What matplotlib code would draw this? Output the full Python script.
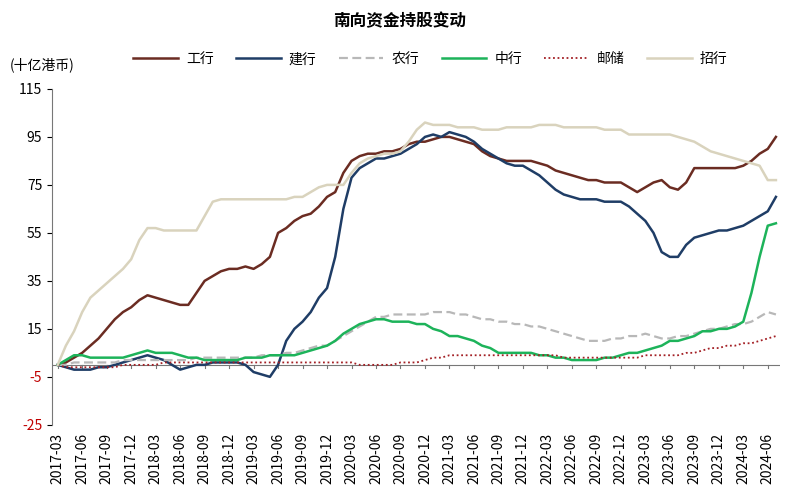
import matplotlib
matplotlib.use("Agg")
import matplotlib.pyplot as plt
import pandas as pd

plt.rcParams["font.family"] = ["Noto Sans CJK SC", "DejaVu Sans"]

months = pd.period_range("2017-03", "2024-07", freq="M")
gh = [0,1,3,5,8,11,15,19,22,24,
      27,29,28,27,26,25,25,30,35,37,39,40,
      40,41,40,42,45,55,57,60,62,63,66,70,
      72,80,85,87,88,88,89,89,90,92,93,93,
      94,95,95,94,93,92,89,87,86,85,85,85,
      85,84,83,81,80,79,78,77,77,76,76,76,
      74,72,74,76,77,74,73,76,82,82,82,82,
      82,82,83,85,88,90,95]
jh = [0,-1,-2,-2,-2,-1,-1,0,1,2,
      3,4,3,2,0,-2,-1,0,0,1,1,1,
      1,0,-3,-4,-5,0,10,15,18,22,28,32,
      45,65,78,82,84,86,86,87,88,90,92,95,
      96,95,97,96,95,93,90,88,86,84,83,83,
      81,79,76,73,71,70,69,69,69,68,68,68,
      66,63,60,55,47,45,45,50,53,54,55,56,
      56,57,58,60,62,64,70]
nh = [0,0,1,1,1,1,1,1,2,2,
      2,2,2,2,2,2,2,3,3,3,3,3,
      3,3,3,4,4,4,5,5,6,7,8,8,
      10,12,14,16,18,20,20,21,21,21,21,21,
      22,22,22,21,21,20,19,19,18,18,17,17,
      16,16,15,14,13,12,11,10,10,10,11,11,
      12,12,13,12,11,11,12,12,13,14,15,15,
      16,17,17,18,20,22,21]
zh = [0,2,4,4,3,3,3,3,3,4,
      5,6,5,5,5,4,3,3,2,2,2,2,
      2,3,3,3,4,4,4,4,5,6,7,8,
      10,13,15,17,18,19,19,18,18,18,17,17,
      15,14,12,12,11,10,8,7,5,5,5,5,
      5,4,4,3,3,2,2,2,2,3,3,4,
      5,5,6,7,8,10,10,11,12,14,14,15,
      15,16,18,30,45,58,59]
yc = [0,-1,-1,-1,-1,-1,-1,-1,0,0,
      0,0,0,1,1,1,1,1,1,1,1,1,
      1,1,1,1,1,1,1,1,1,1,1,1,
      1,1,1,0,0,0,0,0,1,1,1,2,
      3,3,4,4,4,4,4,4,4,4,4,4,
      4,4,4,4,3,3,3,3,3,3,3,3,
      3,3,4,4,4,4,4,5,5,6,7,7,
      8,8,9,9,10,11,12]
zhh = [0,8,14,22,28,31,34,37,40,44,
       52,57,57,56,56,56,56,56,62,68,69,69,
       69,69,69,69,69,69,69,70,70,72,74,75,
       75,75,80,84,86,87,88,88,89,93,98,101,
       100,100,100,99,99,99,98,98,98,99,99,99,
       99,100,100,100,99,99,99,99,99,98,98,98,
       96,96,96,96,96,96,95,94,93,91,89,88,
       87,86,85,84,83,77,77]
yticks = [115, 95, 75, 55, 35, 15, -5, -25]

x = list(range(len(months)))
fig, ax = plt.subplots(figsize=(8, 4.94), dpi=100)
fig.subplots_adjust(left=0.065, right=0.975, top=0.82, bottom=0.14)

ax.plot(x, gh, color="#6b2c22", lw=1.8, label="工行")
ax.plot(x, jh, color="#1f3d66", lw=1.8, label="建行")
ax.plot(x, nh, color="#b8b8b8", lw=1.6, ls=(0, (4, 2)), label="农行")
ax.plot(x, zh, color="#1db35a", lw=1.8, label="中行")
ax.plot(x, yc, color="#a31f24", lw=1.3, ls=(0, (1, 1.5)), label="邮储")
ax.plot(x, zhh, color="#d9d3bd", lw=1.8, label="招行")

ax.axhline(0, color="#777777", lw=0.8, zorder=0)
ticks = [i for i, m in enumerate(months) if m.month in (3, 6, 9, 12)]
for t in ticks:
    ax.plot([t, t], [0, -1.2], color="#777777", lw=0.8, zorder=0)
ax.set_xticks(ticks)
ax.set_xticklabels([str(months[i]) for i in ticks], rotation=90, fontsize=10)
ax.tick_params(axis="x", length=0, pad=6)
ax.set_xlim(-0.7, len(months) - 0.5)
ax.set_ylim(-25, 115)
ax.set_yticks(yticks)
ax.set_yticklabels([str(v) for v in yticks], fontsize=10)
for lbl, v in zip(ax.get_yticklabels(), yticks):
    if v < 0:
        lbl.set_color("#c00000")
for s in ["top", "right", "bottom"]:
    ax.spines[s].set_visible(False)
ax.spines["left"].set_color("#777777")

fig.suptitle("南向资金持股变动", y=0.975, fontsize=12, fontweight="bold")
fig.text(0.012, 0.86, "(十亿港币)", fontsize=10)
ax.legend(loc="lower center", bbox_to_anchor=(0.52, 1.03), ncol=6, frameon=False,
          fontsize=10, handlelength=3.2, columnspacing=1.6, handletextpad=0.6)
fig.savefig("out.png")
